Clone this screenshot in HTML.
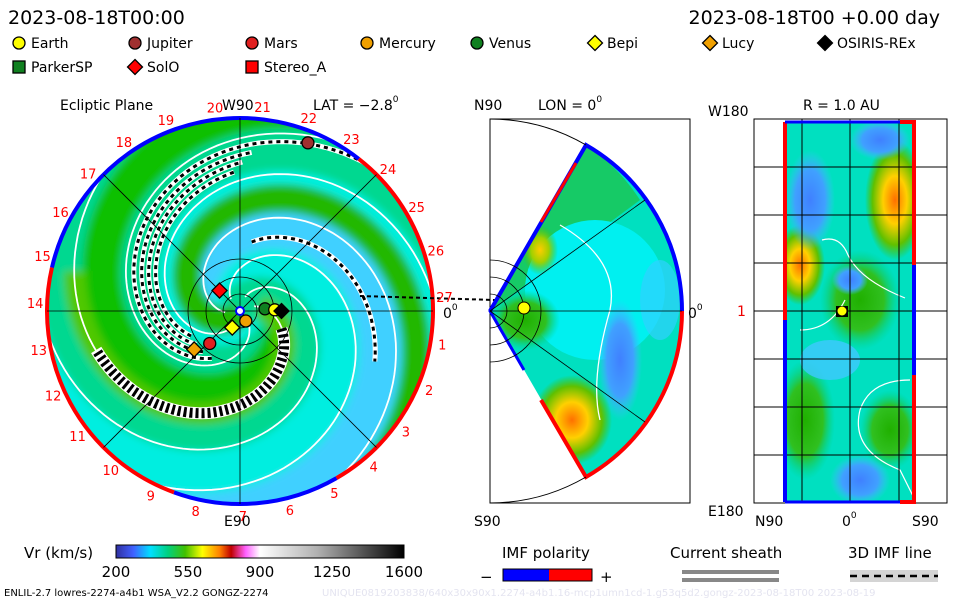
<!DOCTYPE html>
<html><head><meta charset="utf-8">
<style>
body{margin:0;background:#fff;width:960px;height:600px;overflow:hidden;font-family:"DejaVu Sans","Liberation Sans",sans-serif}
svg text{font-family:"DejaVu Sans","Liberation Sans",sans-serif}
</style></head><body>
<svg id="s" width="960" height="600" viewBox="0 0 960 600">
<defs>
 <clipPath id="cc"><circle cx="240" cy="311" r="193"/></clipPath>
 <clipPath id="wc"><path d="M490,311 L586,145 A192,192 0 0 1 586,477 Z"/></clipPath>
 <clipPath id="rc"><rect x="785" y="122" width="129" height="380"/></clipPath>
 <filter id="bl" x="-10%" y="-10%" width="120%" height="120%"><feGaussianBlur stdDeviation="4"/></filter>
 <linearGradient id="cb" x1="0" x2="1">
  <stop offset="0" stop-color="#3030a0"/><stop offset="0.06" stop-color="#4060ff"/><stop offset="0.12" stop-color="#00e0ff"/>
  <stop offset="0.18" stop-color="#00d080"/><stop offset="0.24" stop-color="#40c000"/><stop offset="0.3" stop-color="#ffff00"/>
  <stop offset="0.36" stop-color="#ff8000"/><stop offset="0.4" stop-color="#c00000"/><stop offset="0.45" stop-color="#ff60ff"/>
  <stop offset="0.5" stop-color="#ffffff"/><stop offset="0.7" stop-color="#b0b0b0"/><stop offset="1" stop-color="#000000"/>
 </linearGradient>
 <radialGradient id="blobY"><stop offset="0" stop-color="#ffcc00"/><stop offset="0.5" stop-color="#a0d000"/><stop offset="1" stop-color="#40c000" stop-opacity="0"/></radialGradient>
 <radialGradient id="blobO"><stop offset="0" stop-color="#ff7000"/><stop offset="0.4" stop-color="#ffd000"/><stop offset="0.75" stop-color="#60c000"/><stop offset="1" stop-color="#40c000" stop-opacity="0"/></radialGradient>
 <radialGradient id="blobB"><stop offset="0" stop-color="#4080ff"/><stop offset="0.6" stop-color="#40a0ff"/><stop offset="1" stop-color="#40c0ff" stop-opacity="0"/></radialGradient>
 <radialGradient id="blobG"><stop offset="0" stop-color="#20b000"/><stop offset="0.6" stop-color="#30c020"/><stop offset="1" stop-color="#00d080" stop-opacity="0"/></radialGradient>
</defs>

<text x="8" y="24" font-size="19">2023-08-18T00:00</text>
<text x="940" y="24" font-size="19" text-anchor="end">2023-08-18T00 +0.00 day</text>

<g id="legend" font-size="14"></g>

<g font-size="14">
<text x="60" y="110">Ecliptic Plane</text>
<text x="222" y="110">W90</text>
<text x="313" y="110">LAT = −2.8<tspan font-size="9" dy="-8">0</tspan></text>
<text x="474" y="110">N90</text>
<text x="538" y="110">LON = 0<tspan font-size="9" dy="-8">0</tspan></text>
<text x="708" y="116">W180</text>
<text x="803" y="110">R = 1.0 AU</text>
<text x="224" y="526">E90</text>
<text x="474" y="526">S90</text>
<text x="708" y="516">E180</text>
<text x="755" y="526">N90</text>
<text x="842" y="526">0<tspan font-size="9" dy="-8">0</tspan></text>
<text x="912" y="526">S90</text>
<text x="443" y="318">0<tspan font-size="9" dy="-8">0</tspan></text>
<text x="688" y="318">0<tspan font-size="9" dy="-8">0</tspan></text>
<text x="737" y="316" fill="#e00">1</text>
</g>

<g clip-path="url(#cc)">
 <circle cx="240" cy="311" r="195" fill="#00d8b0"/>
 <g id="eclBands" filter="url(#bl)"></g>
 <g id="ecl"></g>
</g>
<g id="eclOver"></g>

<g>
<rect x="490" y="119" width="200" height="384" fill="none" stroke="#000" stroke-width="1"/>
<g clip-path="url(#wc)">
 <rect x="480" y="130" width="220" height="360" fill="#00e0c0"/>
 <path d="M490,311 L586,145 A192,192 0 0 1 640,200 Z" fill="#20c040" opacity="0.7"/>
 <circle cx="595" cy="290" r="70" fill="#00f0f0"/>
 <ellipse cx="620" cy="360" rx="22" ry="60" fill="url(#blobB)"/>
 <ellipse cx="572" cy="420" rx="40" ry="45" fill="url(#blobO)"/>
 <ellipse cx="540" cy="250" rx="18" ry="25" fill="url(#blobY)"/>
 <ellipse cx="525" cy="320" rx="35" ry="30" fill="url(#blobG)"/>
 <ellipse cx="660" cy="300" rx="20" ry="40" fill="#30d0ff" opacity="0.7"/>
 <path d="M560,225 Q620,260 610,310 Q590,380 600,420" fill="none" stroke="#fff" stroke-width="1.3"/>
</g>
<path d="M490,311 L586,145 A192,192 0 0 1 682,311" fill="none" stroke="#00f" stroke-width="4"/>
<path d="M682,311 A192,192 0 0 1 586,477 L541,400" fill="none" stroke="#f00" stroke-width="4"/>
<path d="M541,222 L490,311 L524,370" fill="none" stroke="#00f" stroke-width="3"/>
<path d="M576,163 L541,222" stroke="#f00" stroke-width="3"/>
<path d="M490,119 A192,192 0 0 1 586,145 M586,477 A192,192 0 0 1 490,503" fill="none" stroke="#000" stroke-width="1"/>
<path d="M490,311 L682,311 M490,311 L645,200 M490,311 L645,422" stroke="#000" stroke-width="0.8"/>
<g fill="none" stroke="#000" stroke-width="0.8">
<path d="M490,260 A51,51 0 0 1 490,362"/><path d="M490,277 A34,34 0 0 1 490,345"/><path d="M490,294 A17,17 0 0 1 490,328"/></g>
<circle cx="524" cy="308" r="6" fill="#ff0" stroke="#000"/>
</g>

<g>
<g clip-path="url(#rc)">
 <rect x="780" y="120" width="140" height="390" fill="#00e0c0"/>
 <ellipse cx="895" cy="200" rx="30" ry="60" fill="url(#blobO)"/>
 <ellipse cx="800" cy="265" rx="25" ry="40" fill="url(#blobO)"/>
 <ellipse cx="860" cy="300" rx="40" ry="50" fill="url(#blobG)"/>
 <ellipse cx="850" cy="280" rx="18" ry="15" fill="url(#blobB)"/>
 <ellipse cx="810" cy="200" rx="25" ry="50" fill="url(#blobB)"/>
 <ellipse cx="880" cy="140" rx="30" ry="20" fill="url(#blobB)"/>
 <ellipse cx="805" cy="420" rx="30" ry="60" fill="url(#blobG)"/>
 <ellipse cx="890" cy="430" rx="30" ry="40" fill="url(#blobG)"/>
 <ellipse cx="860" cy="480" rx="30" ry="25" fill="url(#blobB)"/>
 <ellipse cx="830" cy="360" rx="30" ry="20" fill="#40c8ff" opacity="0.8"/>
 <path d="M845,300 Q830,330 800,330 M905,298 Q860,280 848,255 Q840,235 822,240 M910,380 Q870,380 860,410 Q850,450 900,470 L915,500" fill="none" stroke="#fff" stroke-width="1.2"/>
</g>
<rect x="754" y="119" width="193" height="384" fill="none" stroke="#000"/>
<g id="rgrid" stroke="#000" stroke-width="1"></g>
<path d="M785,502 L785,122" stroke="#f00" stroke-width="4"/>
<path d="M785,502 L785,320" stroke="#00f" stroke-width="4"/>
<path d="M785,122 L900,122 M785,502 L900,502" stroke="#00f" stroke-width="3"/>
<path d="M900,122 L914,122 L914,502 L900,502" stroke="#f00" stroke-width="4" fill="none"/>
<path d="M914,265 L914,375" stroke="#00f" stroke-width="4"/>
<rect x="836" y="306" width="12" height="11" fill="#000"/><circle cx="842" cy="311" r="4.5" fill="#ff0"/>
</g>

<g>
<text x="24" y="558" font-size="15">Vr (km/s)</text>
<rect x="116" y="545" width="288" height="13" fill="url(#cb)" stroke="#000"/>
<g id="cbt" font-size="15" text-anchor="middle"></g>
</g>
<g>
<text x="502" y="558" font-size="15">IMF polarity</text>
<text x="480" y="582" font-size="15">−</text>
<rect x="503" y="569" width="46" height="12" fill="#00f"/><rect x="549" y="569" width="43" height="12" fill="#f00"/>
<rect x="503" y="569" width="89" height="12" fill="none" stroke="#000"/>
<text x="600" y="582" font-size="15">+</text>
</g>
<g>
<text x="670" y="558" font-size="15">Current sheath</text>
<rect x="682" y="570" width="97" height="4" fill="#888"/><rect x="682" y="578" width="97" height="4" fill="#888"/>
</g>
<g>
<text x="848" y="558" font-size="15">3D IMF line</text>
<rect x="850" y="570" width="88" height="12" fill="#d4d4d4"/>
<line x1="850" y1="576" x2="938" y2="576" stroke="#000" stroke-width="2.5" stroke-dasharray="7,5"/>
</g>
<text x="4" y="596" font-size="10">ENLIL-2.7 lowres-2274-a4b1 WSA_V2.2 GONGZ-2274</text>
<text x="322" y="596" font-size="10" fill="#e4e4f0">UNIQUE0819203838/640x30x90x1.2274-a4b1.16-mcp1umn1cd-1.g53q5d2.gongz-2023-08-18T00   2023-08-19</text>
</svg>
<script>
const NS="http://www.w3.org/2000/svg";
const svg=document.getElementById('s');
function mk(tag,attrs,parent){const e=document.createElementNS(NS,tag);for(const k in attrs)e.setAttribute(k,attrs[k]);(parent||svg).appendChild(e);return e;}

// ---- data ----
const cbTicks=[200,550,900,1250,1600];
const legendNames=["Earth","Jupiter","Mars","Mercury","Venus","Bepi","Lucy","OSIRIS-REx","ParkerSP","SolO","Stereo_A"];
const legendShapes=["c","c","c","c","c","d","d","d","s","d","s"];
const legendColors=["#ffff00","#a03030","#e02020","#f0a000","#108020","#ffff00","#f0a000","#000000","#108020","#ff0000","#ff0000"];
const bodyNames=["Jupiter","Mars","Lucy","SolO","Bepi","Mercury","Venus","Earth","OSIRIS-REx"];
const bodyR=[1.88,0.46,0.62,0.30,0.19,0.12,0.26,0.36,0.43];
const bodyA=[-68,133,140,-135,115,60,-5,-2,0];
const bodyShape=["c","c","d","d","d","c","c","c","d"];
const bodyColor=["#a03030","#e02020","#f0a000","#ff0000","#ffff00","#f0a000","#108020","#ffff00","#000000"];
const arcLabels=["20","21","22","23","24","25","26","27","1","2","3","4","5","6","7","8","9","10","11","12","13","14","15","16","17","18","19"];

// ---- legend ----
const lg=document.getElementById('legend');
const lx=[12,128,245,360,470,588,703,818,12,128,245];
legendNames.forEach((n,i)=>{
  const x=lx[i], y=i<8?48:72;
  const g=mk('g',{},lg);
  
  
  drawMarker(g,x+7,y-5,legendShapes[i],legendColors[i],6);
  mk('text',{x:x+19,y:y},g).textContent=n;
});
function drawMarker(p,x,y,sh,col,s){
  if(sh==='c') return mk('circle',{cx:x,cy:y,r:s,fill:col,stroke:'#000','stroke-width':1.3},p);
  if(sh==='s') return mk('rect',{x:x-s,y:y-s,width:2*s,height:2*s,fill:col,stroke:'#000','stroke-width':1.3},p);
  return mk('path',{d:`M${x},${y-s-1.5}L${x+s+1.5},${y}L${x},${y+s+1.5}L${x-s-1.5},${y}Z`,fill:col,stroke:'#000','stroke-width':1.3},p);
}

// ---- colorbar ticks ----
const cbt=document.getElementById('cbt');
const cbx=v=>116+(v-200)/(1600-200)*288;
cbTicks.forEach(v=>{const t=mk('text',{x:cbx(v),y:577},cbt);t.textContent=v;
  });

// ---- ecliptic spirals ----
const cx=240,cy=311,R=193,K=42;
const bands=document.getElementById('eclBands');
const ecl=document.getElementById('ecl');
function spiral(phi0,r0,r1){
  let d='';for(let r=r0;r<=r1;r+=2){const a=phi0+r/K;d+=(d?'L':'M')+(cx+r*Math.cos(a)).toFixed(1)+','+(cy+r*Math.sin(a)).toFixed(1);}return d;}
const bandCols=["#10c000","#00d890","#00f0e0","#40d0ff","#00eee0","#00d890"];
for(let i=0;i<6;i++){
  mk('path',{d:spiral(i*Math.PI/3,0,280),fill:'none',stroke:bandCols[i],'stroke-width':46},bands);
}
mk('path',{d:spiral(2.2,0,280),fill:'none',stroke:'#20b800','stroke-width':28},bands);
mk('path',{d:spiral(-0.67,20,170),fill:'none',stroke:'#50c800','stroke-width':22},bands);
[0.6,1.6,2.7,3.7,4.7,5.6].forEach(p=>mk('path',{d:spiral(p,15,280),fill:'none',stroke:'#fff','stroke-width':1.8},ecl));
// IMF dashed lines
[[0.80,55,200],[1.0,55,160],[1.18,55,150],[1.36,55,140],[-3.07,70,145]].forEach(s=>{
  mk('path',{d:spiral(s[0],s[1],s[2]),fill:'none',stroke:'#fff','stroke-width':5},ecl);
  mk('path',{d:spiral(s[0],s[1],s[2]),fill:'none',stroke:'#000','stroke-width':3,'stroke-dasharray':'4,4'},ecl);
});
// current sheath checker arm
mk('path',{d:spiral(-0.67,45,150),fill:'none',stroke:'#fff','stroke-width':12},ecl);
mk('path',{d:spiral(-0.67,45,150),fill:'none',stroke:'#000','stroke-width':10,'stroke-dasharray':'3,3'},ecl);

const ov=document.getElementById('eclOver');
function arc(a0,a1,col){const p0=[cx+R*Math.cos(a0),cy+R*Math.sin(a0)],p1=[cx+R*Math.cos(a1),cy+R*Math.sin(a1)];
  mk('path',{d:`M${p0}A${R},${R} 0 ${(a1-a0)>Math.PI?1:0} 1 ${p1}`,fill:'none',stroke:col,'stroke-width':4},ov);}
const dg=Math.PI/180;
arc(-167*dg,-52*dg,'#00f');arc(-52*dg,60*dg,'#f00');arc(60*dg,110*dg,'#00f');arc(110*dg,193*dg,'#f00');
mk('line',{x1:cx-R,y1:cy,x2:cx+R,y2:cy,stroke:'#000','stroke-width':0.8},ov);
mk('line',{x1:cx,y1:cy-R,x2:cx,y2:cy+R,stroke:'#000','stroke-width':0.8},ov);
const d45=R*0.7071;
mk('line',{x1:cx-d45,y1:cy-d45,x2:cx+d45,y2:cy+d45,stroke:'#000','stroke-width':0.8},ov);
mk('line',{x1:cx-d45,y1:cy+d45,x2:cx+d45,y2:cy-d45,stroke:'#000','stroke-width':0.8},ov);
[17,34,52].forEach(r=>mk('circle',{cx:cx,cy:cy,r:r,fill:'none',stroke:'#000','stroke-width':0.8},ov));
mk('line',{x1:360,y1:296,x2:495,y2:300,stroke:'#000','stroke-width':2,'stroke-dasharray':'4,3'},ov);
mk('circle',{cx:cx,cy:cy,r:4,fill:'#fff',stroke:'#00f','stroke-width':2},ov);
arcLabels.forEach((l,i)=>{const a=(-97+i*13.3)*dg;const t=mk('text',{x:cx+(R+12)*Math.cos(a),y:cy+(R+12)*Math.sin(a)+5,'font-size':13,fill:'#f00','text-anchor':'middle'},ov);t.textContent=l;});
bodyNames.forEach((n,i)=>{const r=bodyR[i]/2*R,a=bodyA[i]*dg;
  const m=drawMarker(ov,cx+r*Math.cos(a),cy+r*Math.sin(a),bodyShape[i],bodyColor[i],6);
  
  });

const rg=document.getElementById('rgrid');
[802,850,899].forEach(x=>mk('line',{x1:x,y1:119,x2:x,y2:503},rg));
[167,215,263,311,359,407,455].forEach(y=>mk('line',{x1:754,y1:y,x2:947,y2:y},rg));
</script>
</body></html>
